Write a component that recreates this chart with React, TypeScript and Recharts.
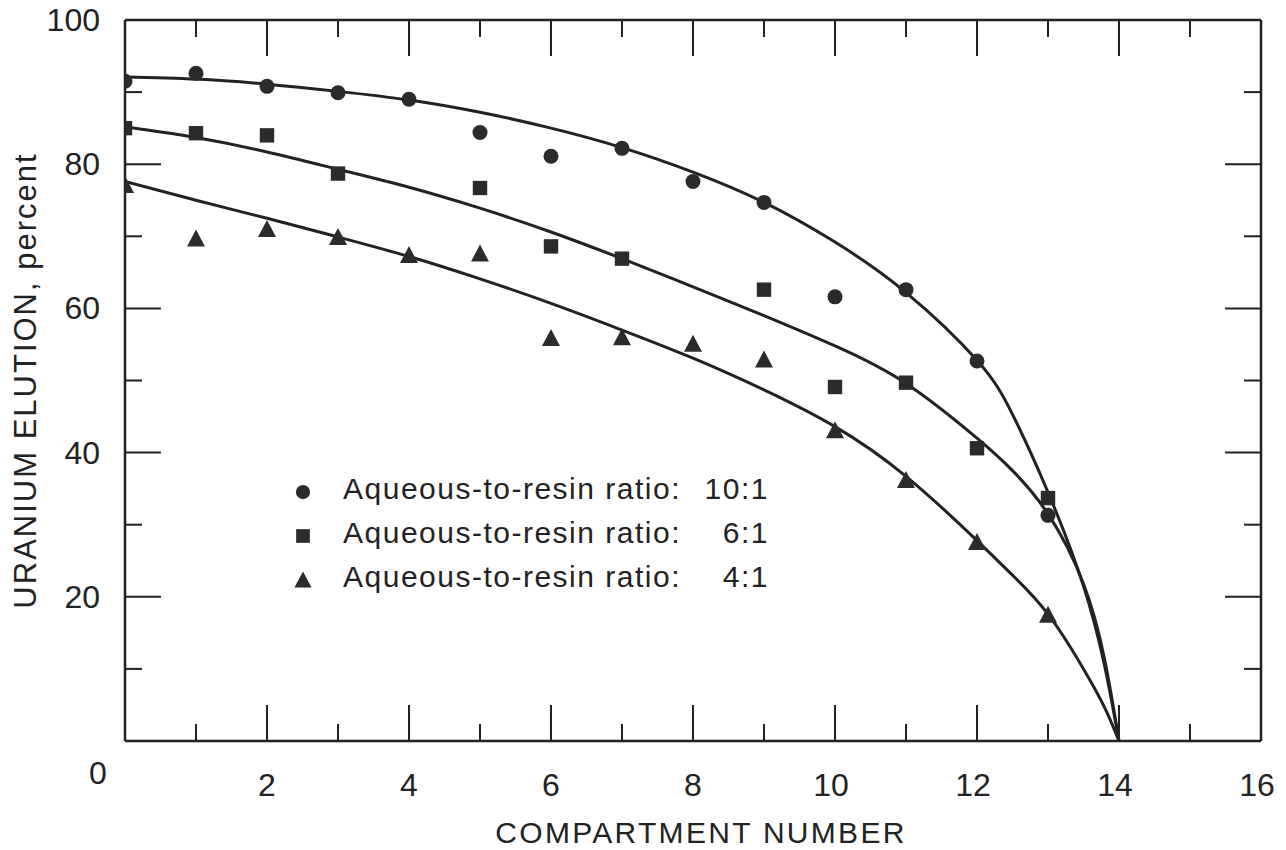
import React from 'react';
import { ComposedChart, Line, Scatter, XAxis, YAxis, Legend } from 'recharts';

// ---------- data ----------
const xTicks = [0, 1, 2, 3, 4, 5, 6, 7, 8, 9, 10, 11, 12, 13, 14, 15, 16];
const yTicks = [0, 10, 20, 30, 40, 50, 60, 70, 80, 90, 100];
const xLabelTicks = [0, 2, 4, 6, 8, 10, 12, 14, 16];
const yLabelTicks = [20, 40, 60, 80, 100];

const seriesNames = ['Aqueous-to-resin ratio:', 'Aqueous-to-resin ratio:', 'Aqueous-to-resin ratio:'];
const ratioLabels = ['10:1', '6:1', '4:1'];
const markerShapes = ['circle', 'square', 'triangle'];

// measured points
const ratio10X = [0, 1, 2, 3, 4, 5, 6, 7, 8, 9, 10, 11, 12, 13];
const ratio10Y = [91.5, 92.6, 90.8, 89.9, 89.0, 84.4, 81.1, 82.2, 77.6, 74.7, 61.6, 62.6, 52.7, 31.3];

const ratio6X = [0, 1, 2, 3, 5, 6, 7, 9, 10, 11, 12, 13];
const ratio6Y = [85.0, 84.3, 84.0, 78.7, 76.7, 68.6, 66.9, 62.6, 49.1, 49.7, 40.6, 33.7];

const ratio4X = [0, 1, 2, 3, 4, 5, 6, 7, 8, 9, 10, 11, 12, 13];
const ratio4Y = [77.1, 69.7, 71.0, 69.9, 67.4, 67.6, 55.9, 56.0, 55.1, 52.9, 43.1, 36.2, 27.6, 17.5];

// fitted curves
const curveX = [0, 1, 2, 3, 4, 5, 6, 7, 8, 9, 10, 11, 12, 12.5, 13, 13.5, 13.8, 14];
const curve10Y = [92.1, 91.8, 91.1, 90.1, 88.9, 87.2, 85.0, 82.3, 78.9, 74.7, 69.2, 62.2, 52.8, 45.3, 34.5, 21.5, 10.3, 0];
const curve6Y = [85.2, 83.7, 81.7, 79.3, 76.8, 73.9, 70.6, 66.9, 63.0, 59.0, 54.8, 49.6, 42.0, 37.5, 31.5, 21.8, 11.2, 0];
const curve4Y = [77.6, 75.0, 72.5, 69.9, 67.2, 64.1, 60.7, 57.0, 53.1, 48.7, 43.6, 36.7, 27.8, 23.0, 17.6, 10.0, 4.6, 0];

const zip = (xs: number[], ys: number[]) => xs.map((x, i) => ({ x, y: ys[i] }));

const pts10 = zip(ratio10X, ratio10Y);
const pts6 = zip(ratio6X, ratio6Y);
const pts4 = zip(ratio4X, ratio4Y);
const crv10 = zip(curveX, curve10Y);
const crv6 = zip(curveX, curve6Y);
const crv4 = zip(curveX, curve4Y);

// ---------- style ----------
const FONT = '"Liberation Sans", Arial, sans-serif';
const INK = '#222';
const MARK = '#2b2b2b';
const W = 1286;
const H = 850;
const LONG = 36;
const SHORT = 17;

const Marker = ({ shape, cx, cy, s = 1 }: { shape: string; cx: number; cy: number; s?: number }) => {
  if (shape === 'circle') return <circle cx={cx} cy={cy} r={7.5 * s} fill={MARK} />;
  if (shape === 'square') return <rect x={cx - 7.2 * s} y={cy - 7.2 * s} width={14.4 * s} height={14.4 * s} fill={MARK} />;
  const hw = 9 * s;
  const hh = 8 * s;
  return <polygon points={`${cx},${cy - hh - 1} ${cx + hw},${cy + hh} ${cx - hw},${cy + hh}`} fill={MARK} />;
};

const shapeFn = (shape: string) => (props: any) => <Marker shape={shape} cx={props.cx} cy={props.cy} />;

const BottomTick = (props: any) => {
  const { x, y, payload } = props;
  const v = payload.value;
  const len = v % 2 === 0 ? LONG : SHORT;
  const drawLine = v !== 0 && v !== 16;
  const hasLabel = xLabelTicks.includes(v);
  return (
    <g>
      {drawLine && <line x1={x} y1={y} x2={x} y2={y - len} stroke={INK} strokeWidth={2} />}
      {hasLabel && (
        <text
          x={v === 0 ? x - 27 : x - (v >= 10 ? 4 : 0)}
          y={v === 0 ? y + 32 : y + 44}
          textAnchor="middle"
          dominantBaseline="central"
          fontFamily={FONT}
          fontSize={32}
          fill={INK}
        >
          {String(v)}
        </text>
      )}
    </g>
  );
};

const TopTick = (props: any) => {
  const { x, y, payload } = props;
  const v = payload.value;
  if (v === 0 || v === 16) return <g />;
  const len = v % 2 === 0 ? LONG : SHORT;
  return <line x1={x} y1={y} x2={x} y2={y + len} stroke={INK} strokeWidth={2} />;
};

const LeftTick = (props: any) => {
  const { x, y, payload } = props;
  const v = payload.value;
  const len = v % 20 === 0 ? LONG : SHORT;
  const drawLine = v !== 0 && v !== 100;
  const hasLabel = yLabelTicks.includes(v);
  return (
    <g>
      {drawLine && <line x1={x} y1={y} x2={x + len} y2={y} stroke={INK} strokeWidth={2} />}
      {hasLabel && (
        <text x={x - 25} y={y} textAnchor="end" dominantBaseline="central" fontFamily={FONT} fontSize={32} fill={INK}>
          {String(v)}
        </text>
      )}
    </g>
  );
};

const RightTick = (props: any) => {
  const { x, y, payload } = props;
  const v = payload.value;
  if (v === 0 || v === 100) return <g />;
  const len = v % 20 === 0 ? LONG : SHORT;
  return <line x1={x} y1={y} x2={x - len} y2={y} stroke={INK} strokeWidth={2} />;
};

const XTitle = (props: any) => {
  const vb = props.viewBox || { x: 0, y: 0, width: 0, height: 0 };
  return (
    <text
      x={vb.x + vb.width / 2 + 8}
      y={vb.y + 102}
      textAnchor="middle"
      fontFamily={FONT}
      fontSize={30}
      letterSpacing={2.3}
      fill={INK}
    >
      COMPARTMENT NUMBER
    </text>
  );
};

const YTitle = (props: any) => {
  const vb = props.viewBox || { x: 0, y: 0, width: 0, height: 0 };
  const cx = vb.x + 25;
  const cy = vb.y + vb.height / 2;
  return (
    <text
      x={cx}
      y={cy}
      transform={`rotate(-90, ${cx}, ${cy})`}
      textAnchor="middle"
      dominantBaseline="central"
      fontFamily={FONT}
      fontSize={31}
      letterSpacing={2}
      fill={INK}
    >
      URANIUM ELUTION, percent
    </text>
  );
};

const LegendBox = () => (
  <svg width={490} height={132} style={{ display: 'block', overflow: 'visible' }}>
    {seriesNames.map((name, i) => {
      const cy = 22 + i * 44;
      return (
        <g key={i}>
          <Marker shape={markerShapes[i]} cx={10} cy={cy} s={0.95} />
          <text x={50} y={cy + 7} fontFamily={FONT} fontSize={30} letterSpacing={1.5} fill={INK}>
            {name}
          </text>
          <text x={476} y={cy + 7} textAnchor="end" fontFamily={FONT} fontSize={30} letterSpacing={1.5} fill={INK}>
            {ratioLabels[i]}
          </text>
        </g>
      );
    })}
  </svg>
);

export default function App() {
  return (
    <div style={{ width: W, height: H, margin: '-8px 0 0 -8px' }}>
      <ComposedChart width={W} height={H} margin={{ top: 19, right: 24, left: 0, bottom: 1 }}>
        <XAxis
          xAxisId={0}
          dataKey="x"
          type="number"
          domain={[0, 16]}
          ticks={xTicks}
          interval={0}
          allowDataOverflow
          height={108}
          tickSize={0}
          tickMargin={0}
          tickLine={false}
          axisLine={{ stroke: INK, strokeWidth: 2.5 }}
          tick={<BottomTick />}
          label={<XTitle />}
        />
        <XAxis
          xAxisId="top"
          orientation="top"
          dataKey="x"
          type="number"
          domain={[0, 16]}
          ticks={xTicks}
          interval={0}
          allowDataOverflow
          height={1}
          tickSize={0}
          tickMargin={0}
          tickLine={false}
          axisLine={{ stroke: INK, strokeWidth: 2.5 }}
          tick={<TopTick />}
        />
        <YAxis
          yAxisId={0}
          dataKey="y"
          type="number"
          domain={[0, 100]}
          ticks={yTicks}
          interval={0}
          allowDataOverflow
          width={125}
          tickSize={0}
          tickMargin={0}
          tickLine={false}
          axisLine={{ stroke: INK, strokeWidth: 2.5 }}
          tick={<LeftTick />}
          label={<YTitle />}
        />
        <YAxis
          yAxisId="right"
          orientation="right"
          dataKey="y"
          type="number"
          domain={[0, 100]}
          ticks={yTicks}
          interval={0}
          allowDataOverflow
          width={1}
          tickSize={0}
          tickMargin={0}
          tickLine={false}
          axisLine={{ stroke: INK, strokeWidth: 2.5 }}
          tick={<RightTick />}
        />
        <Line data={crv10} dataKey="y" type="natural" stroke={INK} strokeWidth={3} dot={false} isAnimationActive={false} legendType="none" />
        <Line data={crv6} dataKey="y" type="natural" stroke={INK} strokeWidth={3} dot={false} isAnimationActive={false} legendType="none" />
        <Line data={crv4} dataKey="y" type="natural" stroke={INK} strokeWidth={3} dot={false} isAnimationActive={false} legendType="none" />
        <Scatter name="10:1" data={pts10} dataKey="y" shape={shapeFn('circle')} isAnimationActive={false} />
        <Scatter name="6:1" data={pts6} dataKey="y" shape={shapeFn('square')} isAnimationActive={false} />
        <Scatter name="4:1" data={pts4} dataKey="y" shape={shapeFn('triangle')} isAnimationActive={false} />
        <Legend
          layout="vertical"
          verticalAlign="middle"
          align="center"
          wrapperStyle={{ position: 'absolute', left: 293, top: 470, width: 490, height: 132 }}
          content={() => <LegendBox />}
        />
      </ComposedChart>
    </div>
  );
}
